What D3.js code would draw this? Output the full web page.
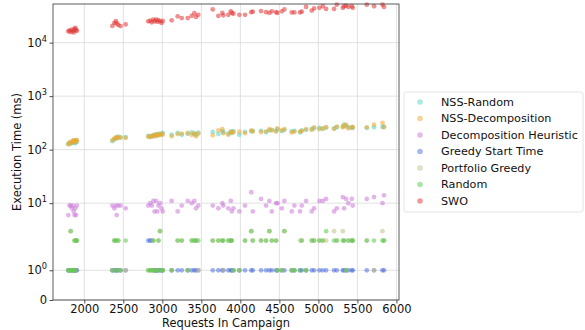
<!DOCTYPE html>
<html>
<head>
<meta charset="utf-8">
<script src="https://cdn.jsdelivr.net/npm/d3@7"></script>
<style>
  body { margin: 0; background: #fff; }
  text { font-family: "DejaVu Sans", sans-serif; }
</style>
</head>
<body>
<div id="my_dataviz"></div>
<script>
// campaigns (requests in campaign), one value per algorithm for each
var requests = [1795,1810,1825,1840,1855,1865,1875,1885,1895,1905,
  2360,2385,2405,2415,2435,2465,2530,
  2820,2845,2865,2885,2900,2920,2935,2950,2970,2990,3005,
  3120,3197,3249,3326,3377,3410,3432,3461,3646,3718,3769,3782,3846,3877,3890,3911,3987,4060,4140,4159,
  4265,4329,4372,4403,4458,4474,4531,4564,4659,4692,4765,4787,4842,4915,4945,5013,5056,5099,
  5201,5236,5313,5329,5355,5384,5428,5440,5620,5713,5821,5841];

var swo = [16300,17000,15800,17500,16500,15500,18000,18800,17200,16600,
  20500,23400,25100,22900,21400,20400,21900,
  25000,25700,24000,27000,25100,27000,24500,26300,25000,23400,25500,
  26100,31000,28800,28800,31600,35500,30200,33100,41700,31600,35900,32400,33100,38500,35900,34700,33100,33100,37200,38000,
  38900,37200,35900,38500,37200,35900,38500,41700,36800,36800,36800,38000,46500,39800,43700,44700,47900,42700,
  42700,51300,44700,47900,49000,46500,47900,44700,51300,47900,51300,46500];

var nssDecomposition = [125,135,140,132,145,150,138,148,142,150,
  150,160,168,172,165,170,165,
  175,172,180,185,178,190,182,195,188,198,192,
  178,195,200,205,190,203,178,200,185,229,241,203,190,210,218,210,218,203,229,218,
  214,218,241,229,218,250,229,241,210,218,218,222,241,234,261,241,250,263,
  244,270,261,280,292,250,261,265,261,292,316,261];

var nssRandom = [130,128,133,138,140,135,145,132,150,140,
  145,155,162,165,175,168,172,
  180,178,175,182,190,185,195,188,200,192,205,
  190,205,190,198,210,195,190,208,214,196,225,210,200,218,205,222,190,215,220,225,
  225,212,230,235,225,240,222,235,220,225,210,230,235,245,250,255,245,258,
  250,262,270,292,275,262,255,258,255,262,265,270];

var decompHeuristic = [6,9,9,8,9,7,6,8,6,9,
  9,8,9,6,9,9,8,
  9,10,9,11,7,11,7,9,10,8,7,
  11,7,9,11,10,11,8,9,9,8,10,9,8,11,7,8,7,9,16,7,
  12,9,11,7,10,10,8,11,7,9,7,9,11,7,8,11,11,12,
  7,8,13,8,12,10,12,9,12,13,10,14];

var greedyStart = [1,1,1,1,1,1,1,1,1,1,
  1,1,1,1,1,1,1,
  2,2,2,1,1,1,1,1,1,1,1,
  1,1,1,1,1,1,1,1,1,1,1,1,1,1,1,1,1,1,1,1,
  1,1,1,1,1,1,1,1,1,1,1,1,1,1,1,1,1,1,
  1,1,1,1,1,1,1,1,1,1,1,1];

var portfolioGreedy = [1,1,3,1,1,1,2,1,2,2,
  1,2,2,1,2,1,1,
  1,1,1,2,1,1,1,2,3,1,1,
  1,2,2,1,2,2,2,1,2,2,2,1,2,2,2,1,1,2,3,2,
  2,2,3,2,2,1,1,3,1,1,2,2,1,2,2,2,2,2,
  3,2,3,2,1,2,2,2,2,1,3,2];

var random = [1,1,3,1,1,1,2,1,2,2,
  1,2,2,1,2,1,2,
  1,1,1,2,1,1,1,2,3,1,1,
  1,2,2,1,2,2,2,2,2,2,2,2,2,2,2,1,1,2,3,2,
  2,2,3,2,2,1,1,3,1,1,1,2,1,2,2,2,2,3,
  2,2,2,2,1,2,2,2,2,2,2,2];

var seriesNames = ["NSS-Random","NSS-Decomposition","Decomposition Heuristic","Greedy Start Time","Portfolio Greedy","Random","SWO"];
var seriesValues = [nssRandom, nssDecomposition, decompHeuristic, greedyStart, portfolioGreedy, random, swo];
var seriesColors = ["#4fd6cc","#f2a72c","#cc7ad8","#4f6fdf","#c4bf86","#5cc853","#e23434"];

var xTicks = [2000,2500,3000,3500,4000,4500,5000,5500,6000];
var yTicks = [0,1,10,100,1000,10000];

// set the dimensions and margins of the graph
var margin = {top: 4, right: 186, bottom: 30, left: 53},
    width = 585 - margin.left - margin.right,
    height = 330 - margin.top - margin.bottom;

var svg = d3.select("#my_dataviz")
  .append("svg")
    .attr("width", 585)
    .attr("height", 330)
  .append("g")
    .attr("transform", "translate(" + margin.left + "," + margin.top + ")");

// symlog, linthresh = 2, linscale = 1
var linAdj = 1 / (1 - 1 / 10);
function symT(v) {
  return v <= 2 ? v * linAdj : 2 * (linAdj + Math.log10(v / 2));
}

var x = d3.scaleLinear().domain([1599, 6033]).range([0, width]);
var y = d3.scaleLinear().domain([0, 11.065]).range([height, 0]);

// grid
svg.append("g")
  .selectAll("line.gx")
  .data(xTicks)
  .enter().append("line")
    .attr("x1", d => x(d)).attr("x2", d => x(d))
    .attr("y1", 0).attr("y2", height)
    .attr("stroke", "#d9d9d9").attr("stroke-width", 0.8);
svg.append("g")
  .selectAll("line.gy")
  .data(yTicks)
  .enter().append("line")
    .attr("x1", 0).attr("x2", width)
    .attr("y1", d => y(symT(d))).attr("y2", d => y(symT(d)))
    .attr("stroke", "#d9d9d9").attr("stroke-width", 0.8);

// points
seriesValues.forEach(function(vals, s) {
  svg.append("g")
    .selectAll("circle")
    .data(vals)
    .enter().append("circle")
      .attr("cx", (d, i) => x(requests[i]))
      .attr("cy", d => y(symT(d)))
      .attr("r", 2.4)
      .attr("fill", seriesColors[s])
      .attr("fill-opacity", 0.55);
});

// axes
var xAxis = svg.append("g")
  .attr("transform", "translate(0," + height + ")")
  .call(d3.axisBottom(x).tickValues(xTicks).tickSize(3.5).tickPadding(1.5).tickFormat(d3.format("d")));
var yAxis = svg.append("g")
  .call(d3.axisLeft(y).tickValues(yTicks.map(symT)).tickSize(3.5).tickPadding(2.5).tickFormat(""));

[xAxis, yAxis].forEach(function(a) {
  a.select(".domain").remove();
  a.selectAll("line").attr("stroke", "#222").attr("stroke-width", 0.8);
  a.selectAll("text").attr("font-size", "11.5px").attr("fill", "#111")
    .style("font-family", "DejaVu Sans");
});

yAxis.selectAll(".tick text").each(function(d, i) {
  var t = d3.select(this);
  var v = yTicks[i];
  if (v === 0) {
    t.text("0");
  } else {
    t.append("tspan").text("10");
    t.append("tspan").text(Math.round(Math.log10(v)))
      .attr("font-size", "8.2px").attr("dy", "-0.65em");
  }
});

// spines
svg.append("rect")
  .attr("width", width).attr("height", height)
  .attr("fill", "none").attr("stroke", "#333").attr("stroke-width", 0.8);

// axis labels
svg.append("text")
  .attr("x", width / 2).attr("y", height + 27)
  .attr("text-anchor", "middle")
  .attr("font-size", "11.4px").attr("fill", "#111")
  .text("Requests In Campaign");
svg.append("text")
  .attr("transform", "translate(" + (-32) + "," + (height / 2) + ") rotate(-90)")
  .attr("text-anchor", "middle")
  .attr("font-size", "11.5px").attr("fill", "#111")
  .text("Execution Time (ms)");

// legend
var legend = d3.select("svg").append("g").attr("transform", "translate(404,92)");
legend.append("rect")
  .attr("width", 179).attr("height", 120).attr("rx", 2.5)
  .attr("fill", "#fff").attr("stroke", "#dcdcdc").attr("stroke-width", 0.8);
seriesNames.forEach(function(name, i) {
  var row = legend.append("g").attr("transform", "translate(0," + (10 + i * 16.5) + ")");
  row.append("circle").attr("cx", 16).attr("cy", 0).attr("r", 2.8)
    .attr("fill", seriesColors[i]).attr("fill-opacity", 0.5);
  row.append("text").attr("x", 37).attr("y", 0).attr("dy", "0.35em")
    .attr("font-size", "11.2px").attr("fill", "#111").text(name);
});
</script>
</body>
</html>
